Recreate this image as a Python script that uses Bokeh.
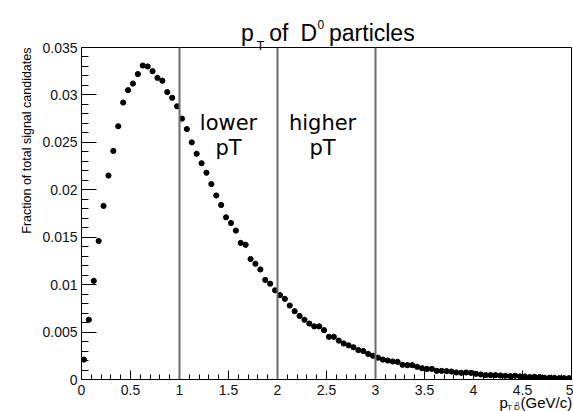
import numpy as np
from bokeh.plotting import figure
from bokeh.models import (Label, Span, FixedTicker, CustomJSTickFormatter,
                          ColumnDataSource, Range1d, Title)
from bokeh.core.properties import value
from bokeh.embed import file_html
from bokeh.resources import INLINE

# ---------------- data ----------------
bin_low, bin_high, n_bins = 0.0, 5.0, 100
bin_width = (bin_high - bin_low) / n_bins
bin_centers = [round(bin_low + bin_width * (i + 0.5), 4) for i in range(n_bins)]

fraction = [
    0.0021, 0.0063, 0.0104, 0.0146, 0.0183, 0.0215, 0.0241, 0.0267, 0.0292, 0.0305,
    0.0312, 0.0322, 0.0331, 0.0330, 0.0325, 0.0318, 0.0315, 0.0303, 0.0297, 0.0288,
    0.0275, 0.0264, 0.0250, 0.0238, 0.0228, 0.0218, 0.0206, 0.0194, 0.0184, 0.0171,
    0.0165, 0.0157, 0.0144, 0.0142, 0.0127, 0.0122, 0.0116, 0.0105, 0.0101, 0.0094,
    0.0089, 0.0085, 0.0078, 0.0072, 0.0067, 0.0063, 0.0059, 0.0056, 0.0056, 0.0052,
    0.0045, 0.0045, 0.0041, 0.0038, 0.0036, 0.0034, 0.0031, 0.0030, 0.0027, 0.0025,
    0.0023, 0.0021, 0.0020, 0.0019, 0.00186, 0.00155, 0.00151, 0.00151, 0.00134, 0.00119,
    0.00112, 0.00112, 0.00091, 0.00091, 0.00088, 0.00084, 0.00074, 0.00070, 0.00074, 0.00070,
    0.00060, 0.00053, 0.00046, 0.00046, 0.00046, 0.00042, 0.00039, 0.00035, 0.00039, 0.00032,
    0.00032, 0.00025, 0.00028, 0.00025, 0.00018, 0.00018, 0.00018, 0.00014, 0.00014, 0.00014,
]

pt_boundaries = [1.0, 2.0, 3.0]
region_names = [("lower", "pT"), ("higher", "pT")]

x_major_ticks = [0, 0.5, 1, 1.5, 2, 2.5, 3, 3.5, 4, 4.5, 5]
y_major_ticks = [0, 0.005, 0.01, 0.015, 0.02, 0.025, 0.03, 0.035]

# ---------------- figure ----------------
FONT = "Liberation Sans"
W, H = 573, 411
FL, FR, FT, FB = 81, 571, 47, 379   # frame edges in canvas pixels
X0, X1, Y0, Y1 = 0.0, 5.0, 0.0, 0.035

p = figure(width=W, height=H, output_backend="svg", toolbar_location=None,
           x_range=Range1d(X0, X1), y_range=Range1d(Y0, Y1),
           min_border_left=FL, min_border_right=W - FR, min_border_top=FT,
           min_border_bottom=H - FB)
p.xgrid.visible = False
p.ygrid.visible = False
p.outline_line_color = "black"
p.outline_line_width = 1
p.background_fill_color = "white"
p.border_fill_color = "white"

x_minor = [round(0.1 * i, 2) for i in range(51)]
y_minor = [round(0.001 * i, 4) for i in range(36)]

p.xaxis.ticker = FixedTicker(ticks=x_major_ticks, minor_ticks=x_minor)
p.yaxis.ticker = FixedTicker(ticks=y_major_ticks, minor_ticks=y_minor)
p.xaxis.formatter = CustomJSTickFormatter(
    code="return tick.toFixed(1).replace(/0+$/, '').replace(/\\.$/, '');")
p.yaxis.formatter = CustomJSTickFormatter(
    code="return tick.toFixed(3).replace(/0+$/, '').replace(/\\.$/, '');")

for ax in (p.xaxis, p.yaxis):
    ax.axis_line_color = "black"
    ax.axis_line_width = 1
    ax.major_tick_line_color = "black"
    ax.minor_tick_line_color = "black"
    ax.major_tick_out = 0
    ax.minor_tick_out = 0
    ax.major_label_text_font = FONT
    ax.major_label_text_font_size = "14px"
    ax.major_label_text_color = "#111111"

p.xaxis.major_tick_in = 9
p.xaxis.minor_tick_in = 5
p.xaxis.major_label_standoff = 5
p.yaxis.major_tick_in = 15
p.yaxis.minor_tick_in = 7
p.yaxis.major_label_standoff = 4

# boundaries
for b in pt_boundaries:
    p.add_layout(Span(location=b, dimension="height", line_color="#6b6b6b",
                      line_width=2))

# data points
src = ColumnDataSource(dict(x=bin_centers, y=fraction))
p.scatter("x", "y", source=src, size=5.2, color="black")

# region labels
region_x = [1.5, 2.46]
for (l1, l2), xc in zip(region_names, region_x):
    p.add_layout(Label(x=xc, y=0.02702, text=l1, text_align="center",
                       text_baseline="alphabetic", text_font="DejaVu Sans",
                       text_font_size="21px", text_color="black"))
    p.add_layout(Label(x=xc, y=0.02443, text=l2, text_align="center",
                       text_baseline="alphabetic", text_font="DejaVu Sans",
                       text_font_size="21px", text_color="black"))

# helpers: canvas pixel -> data coords (for text outside frame)
def dx(px):
    return X0 + (px - FL) * (X1 - X0) / (FR - FL)

def dy(py):
    return Y0 + (FB - py) * (Y1 - Y0) / (FB - FT)

def otext(px, py, txt, size, align="left"):
    p.text(x=[dx(px)], y=[dy(py)], text=[txt], text_font=value(FONT),
           text_font_size=value(f"{size}px"), text_align=align,
           text_baseline="alphabetic", text_color="black", level="overlay")

# title: p_T of D^0 particles
otext(240.5, 32.0, "p", 23)
otext(256.0, 44.5, "T", 13)
otext(268.8, 32.0, "of", 23)
otext(300.0, 32.0, "D", 23)
otext(317.0, 23.5, "0", 12)
otext(328.5, 32.0, "particles", 23)

# x axis title: p_{T D^0} (GeV/c)
otext(499.0, 401.5, "p", 15)
otext(506.5, 407.0, "T D", 8)
otext(515.0, 403.5, "0", 6)
otext(520.0, 402.0, "(GeV/c)", 15)

# y axis title (top aligned, in left panel)
p.add_layout(Title(text="Fraction of total signal candidates", align="right",
                   text_font=FONT, text_font_size="12.5px", standoff=12,
                   text_font_style="normal", text_color="black"), "left")

open("out.html", "w").write(file_html(p, INLINE))
